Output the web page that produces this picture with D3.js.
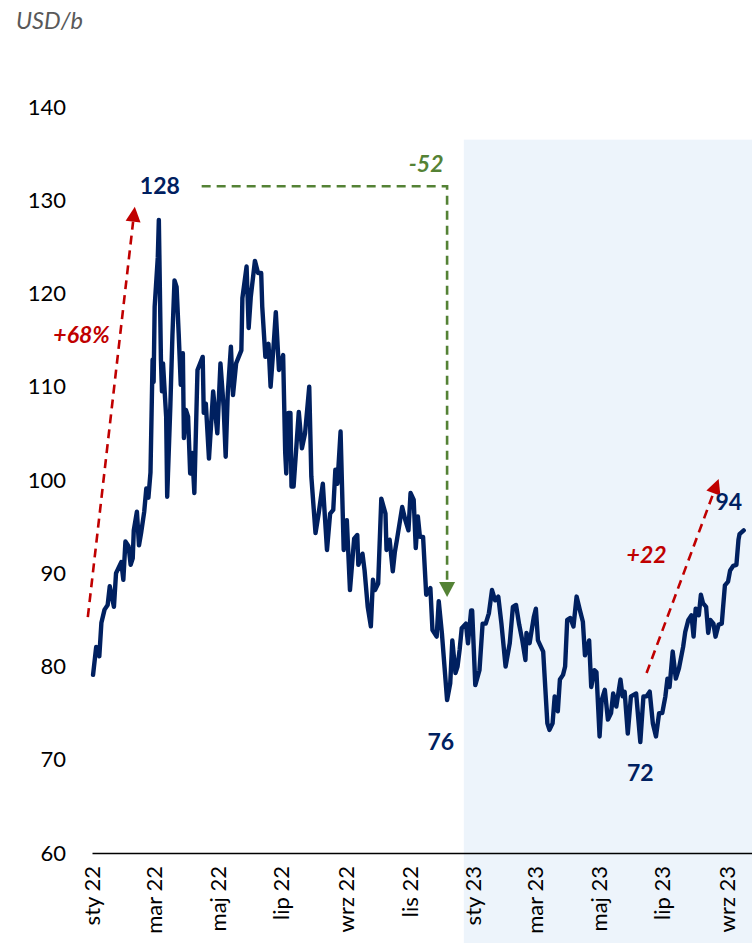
<!DOCTYPE html>
<html>
<head>
<meta charset="utf-8">
<script src="https://cdn.jsdelivr.net/npm/d3@7"></script>
<style>
  html, body { margin: 0; padding: 0; background: #fff; }
  svg { display: block; font-family: Lato, "Open Sans", sans-serif; }
</style>
</head>
<body>
<svg id="chart" width="752" height="943"></svg>
<script>
// ---------- data ----------
const dates = [
"2022-01-02","2022-01-05","2022-01-08","2022-01-10","2022-01-13","2022-01-16","2022-01-18","2022-01-22","2022-01-24","2022-01-29",
"2022-01-31","2022-02-02","2022-02-05","2022-02-07","2022-02-09","2022-02-10","2022-02-13","2022-02-15","2022-02-17","2022-02-20",
"2022-02-22","2022-02-24","2022-02-26","2022-02-28","2022-03-01","2022-03-02","2022-03-05","2022-03-06","2022-03-08","2022-03-09",
"2022-03-10","2022-03-13","2022-03-14","2022-03-17","2022-03-19","2022-03-21","2022-03-23","2022-03-25","2022-03-27","2022-03-29",
"2022-03-30","2022-04-01","2022-04-03","2022-04-05","2022-04-07","2022-04-09","2022-04-12","2022-04-17","2022-04-18","2022-04-20",
"2022-04-23","2022-04-27","2022-05-01","2022-05-04","2022-05-07","2022-05-09","2022-05-11","2022-05-14","2022-05-16","2022-05-19",
"2022-05-24","2022-05-25","2022-05-29","2022-05-31","2022-06-02","2022-06-06","2022-06-09","2022-06-12","2022-06-13","2022-06-16",
"2022-06-19","2022-06-21","2022-06-24","2022-06-26","2022-06-29","2022-07-03","2022-07-05","2022-07-06","2022-07-08","2022-07-10",
"2022-07-11","2022-07-13","2022-07-18","2022-07-21","2022-07-24","2022-07-28","2022-07-30","2022-08-03","2022-08-06","2022-08-10",
"2022-08-14","2022-08-17","2022-08-20","2022-08-22","2022-08-24","2022-08-27","2022-08-30","2022-09-02","2022-09-05","2022-09-09",
"2022-09-12","2022-09-13","2022-09-17","2022-09-19","2022-09-22","2022-09-25","2022-09-27","2022-09-29","2022-10-02","2022-10-05",
"2022-10-09","2022-10-10","2022-10-13","2022-10-16","2022-10-18","2022-10-20","2022-10-25","2022-10-28","2022-10-31","2022-11-02",
"2022-11-05","2022-11-07","2022-11-09","2022-11-11","2022-11-14","2022-11-17","2022-11-21","2022-11-23","2022-11-27","2022-11-29",
"2022-12-02","2022-12-07","2022-12-10","2022-12-12","2022-12-15","2022-12-17","2022-12-19","2022-12-21","2022-12-25","2022-12-27",
"2022-12-30","2022-12-31","2023-01-03","2023-01-07","2023-01-10","2023-01-13","2023-01-16","2023-01-19","2023-01-22","2023-01-25",
"2023-01-28","2023-02-01","2023-02-05","2023-02-08","2023-02-11","2023-02-14","2023-02-17","2023-02-20","2023-02-21","2023-02-24",
"2023-02-28","2023-03-02","2023-03-04","2023-03-09","2023-03-13","2023-03-15","2023-03-18","2023-03-20","2023-03-23","2023-03-25",
"2023-03-28","2023-03-30","2023-04-01","2023-04-04","2023-04-07","2023-04-10","2023-04-13","2023-04-16","2023-04-18","2023-04-22",
"2023-04-24","2023-04-27","2023-04-29","2023-05-02","2023-05-04","2023-05-07","2023-05-10","2023-05-13","2023-05-15","2023-05-18",
"2023-05-22","2023-05-24","2023-05-26","2023-05-29","2023-06-01","2023-06-06","2023-06-10","2023-06-13","2023-06-16","2023-06-19",
"2023-06-22","2023-06-25","2023-06-28","2023-07-01","2023-07-04","2023-07-06","2023-07-08","2023-07-11","2023-07-14","2023-07-17",
"2023-07-21","2023-07-23","2023-07-26","2023-07-29","2023-07-31","2023-08-02","2023-08-05","2023-08-07","2023-08-09","2023-08-12",
"2023-08-14","2023-08-16","2023-08-19","2023-08-21","2023-08-24","2023-08-27","2023-08-28","2023-08-30","2023-09-02","2023-09-04",
"2023-09-07","2023-09-10","2023-09-12","2023-09-13","2023-09-17"
];
const prices = [
79.1,82.1,81.1,84.7,86.1,86.6,88.6,86.4,90.0,91.2,
89.3,93.4,92.9,90.9,91.6,94.6,96.6,93.0,94.3,96.6,
99.1,98.1,100.8,112.9,110.5,118.6,123.9,127.9,112.9,109.5,
112.5,106.8,98.2,107.9,115.5,121.4,120.7,115.7,110.2,113.6,
104.5,107.5,106.8,100.7,102.9,98.6,111.8,113.2,107.2,108.2,
102.3,109.5,105.0,112.5,107.9,102.5,109.3,114.3,109.1,112.5,
113.9,119.5,122.9,116.3,119.6,123.5,122.2,122.2,118.6,113.2,
114.6,110.0,114.6,118.0,111.8,113.4,102.9,100.7,107.2,107.2,
99.3,99.3,107.3,103.4,105.0,110.0,100.4,94.3,96.4,99.6,
92.5,96.4,96.8,101.1,99.6,105.2,92.5,95.7,88.2,93.7,
94.1,90.9,92.1,90.3,86.4,84.3,89.3,88.2,88.9,98.0,
96.4,92.5,93.6,90.2,92.3,93.6,97.1,95.7,94.6,98.6,
97.9,92.7,96.1,93.9,93.9,87.7,88.4,83.9,83.2,87.0,
83.6,76.4,78.2,82.8,79.3,80.0,81.8,84.1,84.6,82.5,
86.0,86.0,78.0,79.6,84.6,84.6,85.7,88.2,87.1,87.5,
84.6,80.0,82.5,86.4,86.6,84.5,82.8,80.7,83.6,82.5,
85.3,86.2,82.8,81.6,73.9,73.2,73.9,76.8,75.2,78.6,
79.1,80.0,85.0,85.2,84.3,87.5,86.1,84.8,81.2,82.8,
77.8,79.6,79.4,72.5,76.4,77.5,74.3,75.0,77.1,75.7,
78.6,76.8,77.3,72.8,76.8,77.1,71.9,76.8,76.8,77.3,
73.9,72.5,75.0,75.0,76.8,78.7,77.8,81.6,78.7,79.8,
82.1,83.7,85.0,85.5,83.2,86.2,85.5,87.7,86.8,86.4,
83.6,85.0,84.6,83.2,84.5,84.6,86.0,88.7,89.1,90.3,
90.8,90.9,93.6,94.2,94.6
];
const tickDates = ["2022-01-01","2022-03-01","2022-05-01","2022-07-01","2022-09-01","2022-11-01",
                   "2023-01-01","2023-03-01","2023-05-01","2023-07-01","2023-09-01"];
const tickLabels = ["sty 22","mar 22","maj 22","lip 22","wrz 22","lis 22",
                    "sty 23","mar 23","maj 23","lip 23","wrz 23"];
const yTicks = [60,70,80,90,100,110,120,130,140];
const unitLabel = "USD/b";

// shaded region start (date) and top (value)
const shadeStart = "2022-12-23";
const shadeTop = 136.5;

// annotations in data space
const valueLabels = [
  {date:"2022-03-07", value:130.7, text:"128", kind:"navy", anchor:"middle"},
  {date:"2022-12-01", value:71.05, text:"76", kind:"navy", anchor:"middle"},
  {date:"2023-06-10", value:67.7, text:"72", kind:"navy", anchor:"middle"},
  {date:"2023-08-21", value:96.8, text:"94", kind:"navy", anchor:"start"},
  {date:"2021-12-22", value:114.7, text:"+68%", kind:"red", anchor:"middle"},
  {date:"2023-06-16", value:91.1, text:"+22", kind:"red", anchor:"middle"},
  {date:"2022-11-17", value:133.0, text:"-52", kind:"green", anchor:"middle"}
];
const redArrows = [
  {from:["2021-12-28", 85.3], to:["2022-02-11", 129.3]},
  {from:["2023-06-16", 79.3], to:["2023-08-24", 100.1]}
];
const greenPath = [["2022-04-16",131.5],["2022-12-07",131.5],["2022-12-07",87.45]];

// ---------- drawing ----------
const W = 752, H = 943;
const parse = d3.utcParse("%Y-%m-%d");
const colors = {navy:"#002060", red:"#C00000", green:"#548235"};

const xBase = d3.scaleUtc().domain([parse("2022-01-01"), parse("2023-09-01")]).range([92, 727]);
const x = d3.scaleUtc().domain([xBase.invert(92), xBase.invert(W)]).range([92, W]);
const y = d3.scaleLinear().domain([60, 140]).range([853, 107]);

const svg = d3.select("#chart");

// shaded area
svg.append("rect")
  .attr("x", x(parse(shadeStart)))
  .attr("y", y(shadeTop))
  .attr("width", W - x(parse(shadeStart)))
  .attr("height", H - y(shadeTop))
  .attr("fill", "#EDF4FB");

// unit label
svg.append("text").attr("x", 16).attr("y", 29)
  .attr("font-size", 23.5).attr("font-style", "italic").attr("fill", "#595959")
  .text(unitLabel);

// y axis
const yAxis = svg.append("g").attr("transform", "translate(92,0)")
  .call(d3.axisLeft(y).tickValues(yTicks).tickSize(0).tickPadding(26).tickFormat(d3.format("d")));
yAxis.select(".domain").remove();
yAxis.selectAll("text").attr("font-size", 22).attr("fill", "#000").attr("font-family", "Lato, sans-serif");

// x axis
const xAxis = svg.append("g").attr("transform", `translate(0,${y(60)})`)
  .call(d3.axisBottom(x).tickValues(tickDates.map(parse)).tickSize(0)
        .tickFormat((d, i) => tickLabels[i]));
xAxis.select(".domain").attr("stroke", "#000").attr("stroke-width", 1.6);
xAxis.selectAll("text")
  .attr("transform", "rotate(-90)")
  .attr("x", -13).attr("y", 0).attr("dy", "0.35em")
  .style("text-anchor", "end")
  .attr("font-size", 22).attr("fill", "#000").attr("font-family", "Lato, sans-serif");

// price line
const series = dates.map((d, i) => ({date: parse(d), value: prices[i]}));
svg.append("path").datum(series)
  .attr("fill", "none").attr("stroke", colors.navy).attr("stroke-width", 4.4)
  .attr("stroke-linejoin", "round").attr("stroke-linecap", "round")
  .attr("d", d3.line().x(d => x(d.date)).y(d => y(d.value)));

// arrow helper
function arrow(p0, p1, headLen, headHalf) {
  const dx = p1[0] - p0[0], dy = p1[1] - p0[1];
  const L = Math.hypot(dx, dy);
  const ux = dx / L, uy = dy / L;
  const bx = p1[0] - ux * headLen, by = p1[1] - uy * headLen;
  return {line: [p0, [bx, by]],
          head: [[p1[0], p1[1]], [bx - uy * headHalf, by + ux * headHalf], [bx + uy * headHalf, by - ux * headHalf]]};
}

redArrows.forEach(a => {
  const p0 = [x(parse(a.from[0])), y(a.from[1])];
  const p1 = [x(parse(a.to[0])), y(a.to[1])];
  const ar = arrow(p0, p1, 15, 7.5);
  svg.append("path").attr("d", d3.line()(ar.line))
    .attr("stroke", colors.red).attr("stroke-width", 2.6).attr("fill", "none")
    .attr("stroke-dasharray", "9,6");
  svg.append("polygon").attr("points", ar.head.map(p => p.join(",")).join(" "))
    .attr("fill", colors.red);
});

// green bracket arrow
{
  const pts = greenPath.map(p => [x(parse(p[0])), y(p[1])]);
  const last = pts[pts.length - 1], prev = pts[pts.length - 2];
  const ar = arrow(prev, last, 15, 8);
  const linePts = pts.slice(0, -1).concat([ar.line[1]]);
  svg.append("path").attr("d", d3.line()(linePts))
    .attr("stroke", colors.green).attr("stroke-width", 2.6).attr("fill", "none")
    .attr("stroke-dasharray", "9,6");
  svg.append("polygon").attr("points", ar.head.map(p => p.join(",")).join(" "))
    .attr("fill", colors.green);
}

// labels
valueLabels.forEach(l => {
  svg.append("text")
    .attr("x", x(parse(l.date))).attr("y", y(l.value))
    .attr("text-anchor", l.anchor)
    .attr("font-size", 23).attr("font-weight", "bold")
    .attr("font-style", l.kind === "navy" ? "normal" : "italic")
    .attr("fill", colors[l.kind])
    .text(l.text);
});
</script>
</body>
</html>
